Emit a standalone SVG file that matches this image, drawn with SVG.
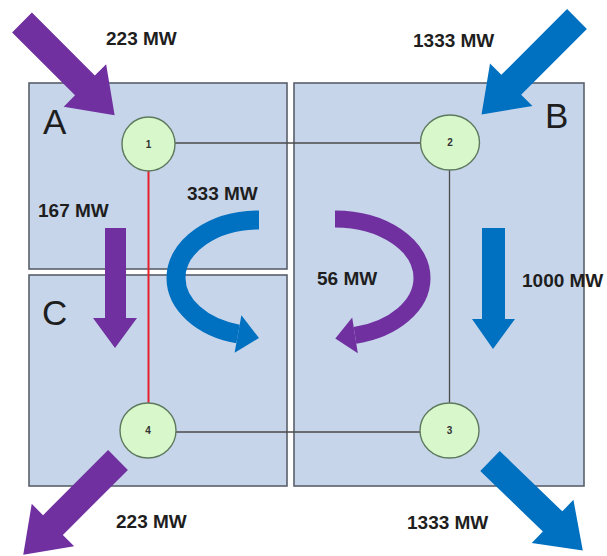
<svg xmlns="http://www.w3.org/2000/svg" width="607" height="556" viewBox="0 0 607 556">
  <style>
    .area { fill: #c6d5ea; stroke: #59606b; stroke-width: 1.6; }
    .node { fill: #d8f7cb; stroke: #5e7a5e; stroke-width: 1.4; }
    .nlabel { font-family: "Liberation Sans", Arial, sans-serif; font-size: 10px; font-weight: bold; fill: #333; text-anchor: middle; }
    .alabel { font-family: "Liberation Sans", Arial, sans-serif; font-size: 35px; fill: #1e1e1e; }
    .mw { font-family: "Liberation Sans", Arial, sans-serif; font-size: 19px; font-weight: bold; fill: #1e1e1e; }
    .line { stroke: #4a4a4a; stroke-width: 1.3; fill: none; }
    .red { stroke: #e8202a; stroke-width: 2; fill: none; }
    .purple { fill: #7030a0; }
    .blue { fill: #0070c0; }
  </style>
  <rect width="607" height="556" fill="#ffffff"/>

  <g id="area-A"><rect class="area" x="29" y="83" width="258" height="186"/><text class="alabel" x="43" y="134">A</text></g>
  <g id="area-B"><rect class="area" x="294" y="83" width="290" height="403"/><text class="alabel" x="545" y="128">B</text></g>
  <g id="area-C"><rect class="area" x="29" y="275" width="258" height="211"/><text class="alabel" x="42" y="325">C</text></g>

  <g id="connectors">
    <line class="line" x1="175" y1="143" x2="421" y2="143"/>
    <line class="line" x1="449.5" y1="170" x2="449.5" y2="403"/>
    <line class="line" x1="176" y1="432" x2="420" y2="432"/>
    <line class="red" x1="148.5" y1="171" x2="148.5" y2="403"/>
  </g>

  <g id="node-1"><ellipse class="node" cx="148.5" cy="144" rx="26.5" ry="27"/><text class="nlabel" x="148.5" y="147.5">1</text></g>
  <g id="node-2"><ellipse class="node" cx="450" cy="142.5" rx="29.5" ry="27.5"/><text class="nlabel" x="450" y="146">2</text></g>
  <g id="node-3"><ellipse class="node" cx="449.5" cy="430.5" rx="29.5" ry="27.5"/><text class="nlabel" x="449.5" y="434">3</text></g>
  <g id="node-4"><ellipse class="node" cx="148" cy="430.5" rx="28" ry="27.5"/><text class="nlabel" x="148" y="434">4</text></g>

  <g id="flows">
    <polygon class="purple" transform="translate(22,22.5) rotate(45)" points="0,-14 89,-14 89,-30 131,0 89,30 89,14 0,14"/>
    <polygon class="blue" transform="translate(577,19) rotate(135)" points="0,-14 93,-14 93,-30 135,0 93,30 93,14 0,14"/>
    <polygon class="purple" transform="translate(118,460) rotate(135)" points="0,-14 92,-14 92,-30 134,0 92,30 92,14 0,14"/>
    <polygon class="blue" transform="translate(490,461) rotate(44)" points="0,-14 87,-14 87,-30 129,0 87,30 87,14 0,14"/>

    <polygon class="purple" points="105,228 126,228 126,318 137,318 115,348 93,318 105,318"/>
    <polygon class="blue" points="482,228 505,228 505,319 515,319 493,349 472,319 482,319"/>

    <path d="M 259 220 A 83 58 0 0 0 176 278 A 83 58 0 0 0 238 334" fill="none" stroke="#0070c0" stroke-width="19"/>
    <polygon class="blue" points="241.4,315.3 259,338 234.6,352.7"/>

    <path d="M 335 219 A 87 59 0 0 1 422 278 A 87 59 0 0 1 355 335.4" fill="none" stroke="#7030a0" stroke-width="17"/>
    <polygon class="purple" points="352.2,317.6 335.3,338.6 357.8,353.2"/>
  </g>

  <g id="labels">
    <text class="mw" x="106" y="45">223 MW</text>
    <text class="mw" x="413" y="47">1333 MW</text>
    <text class="mw" x="187" y="200">333 MW</text>
    <text class="mw" x="38" y="217">167 MW</text>
    <text class="mw" x="317" y="285">56 MW</text>
    <text class="mw" x="522" y="287">1000 MW</text>
    <text class="mw" x="116" y="528">223 MW</text>
    <text class="mw" x="407" y="529">1333 MW</text>
  </g>
</svg>
